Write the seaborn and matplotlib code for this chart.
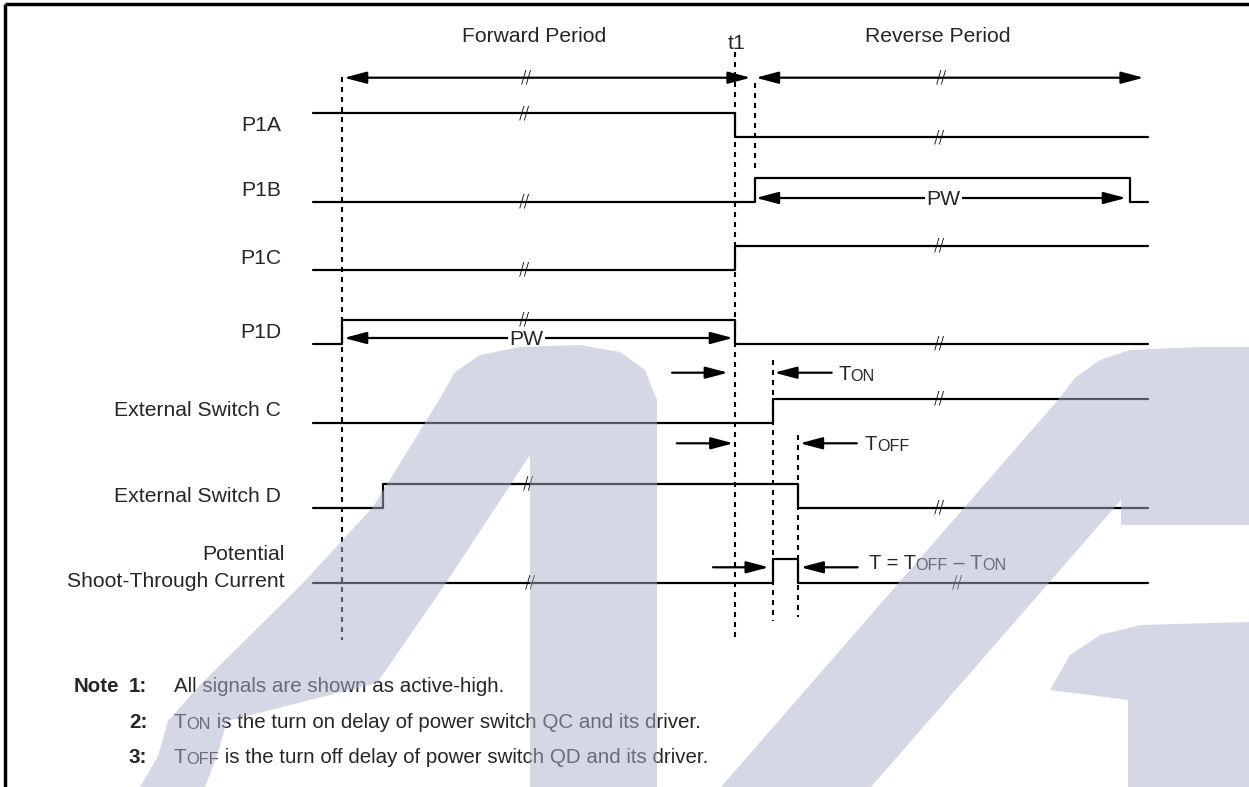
import matplotlib.pyplot as plt
import pandas as pd
import seaborn as sns
from matplotlib.patches import Polygon

# ---- timing data (time units, t1 = 100) ----
T_START, T_END = -7.4, 205.2
T1 = 100.0
P1B_RISE, P1B_FALL = 105.1, 200.6
T_ON, T_OFF = 109.6, 116.0
EXTD_RISE = 10.35

signal_names = ["P1A", "P1B", "P1C", "P1D", "External Switch C", "External Switch D", "Shoot"]
p1a_t, p1a_v = [T_START, T1, T_END], [1, 0, 0]
p1b_t, p1b_v = [T_START, P1B_RISE, P1B_FALL, T_END], [0, 1, 0, 0]
p1c_t, p1c_v = [T_START, T1, T_END], [0, 1, 1]
p1d_t, p1d_v = [T_START, 0.0, T1, T_END], [0, 1, 0, 0]
extc_t, extc_v = [T_START, T_ON, T_END], [0, 1, 1]
extd_t, extd_v = [T_START, EXTD_RISE, T_OFF, T_END], [0, 1, 0, 0]
shoot_t, shoot_v = [T_START, T_ON, T_OFF, T_END], [0, 1, 0, 0]

# period spans and pulse widths
forward_span = (0.5, 104.0)
reverse_span = (105.3, 204.0)
p1d_pw = (0.5, 99.5)
p1b_pw = (105.3, 199.5)
# delay arrows: (tail, tip)
ton_arrows = [(84.0, 98.2), (124.6, 110.0)]
toff_arrows = [(85.2, 99.6), (131.0, 116.5)]
shoot_arrows = [(94.4, 108.6), (131.2, 116.7)]

# dashed markers: time, top, bottom (px)
marker_t = [0.0, T1, P1B_RISE, T_ON, T_OFF]
marker_top = [77, 52, 83, 360, 435]
marker_bot = [640, 640, 173, 621, 617]

# ---- layout ----
W, H = 1249, 787
PX0, PX_PER_T = 342, 3.93
row_low_y = [137.3, 201.5, 269.5, 344.0, 422.5, 507.5, 582.7]
STEP_H = 24
LBL = 15.2

sns.set_theme(style="white")
plt.rcParams['font.family'] = ['Liberation Sans', 'DejaVu Sans']

fig = plt.figure(figsize=(W / 100, H / 100), dpi=100)
ax = fig.add_axes([0, 0, 1, 1])

sig_t = [p1a_t, p1b_t, p1c_t, p1d_t, extc_t, extd_t, shoot_t]
sig_v = [p1a_v, p1b_v, p1c_v, p1d_v, extc_v, extd_v, shoot_v]
rows = []
for name, ts, vs, base in zip(signal_names, sig_t, sig_v, row_low_y):
    for t, v in zip(ts, vs):
        rows.append({"signal": name, "t": t, "y": base - v * STEP_H})
df = pd.DataFrame(rows)
sns.lineplot(data=df, x="t", y="y", units="signal", estimator=None, sort=False,
             drawstyle="steps-post", color="black", lw=1.6, ax=ax)

ax.vlines(marker_t, marker_top, marker_bot, colors="black", lw=1.5,
          linestyles=(0, (2.4, 2.4)))


def harrow(tail, tip, y, both=False):
    style = '<|-|>' if both else '-|>'
    ax.annotate('', xy=(tip, y), xytext=(tail, y),
                arrowprops=dict(arrowstyle=f'{style},head_length=0.68,head_width=0.18',
                                mutation_scale=20, lw=1.6, color='black',
                                shrinkA=0, shrinkB=0))


harrow(*forward_span, 77.7, both=True)
harrow(*reverse_span, 77.7, both=True)
harrow(*p1d_pw, 338, both=True)
harrow(*p1b_pw, 198, both=True)
for tail, tip in ton_arrows:
    harrow(tail, tip, 372.7)
for tail, tip in toff_arrows:
    harrow(tail, tip, 443.3)
for tail, tip in shoot_arrows:
    harrow(tail, tip, 567.3)

# break marks
breaks = [(46.8, 77.7), (152.4, 77.7)]
for i, (ts, vs) in enumerate(zip(sig_t, sig_v)):
    fwd = {0: 46.5, 1: 46.5, 2: 46.5, 3: 46.5, 5: 47.5, 6: 48.0}.get(i)
    rev = {0: 152.0, 2: 152.0, 3: 152.0, 4: 152.0, 5: 152.0, 6: 156.5}.get(i)
    for bt in (fwd, rev):
        if bt is None:
            continue
        lvl = [v for t, v in zip(ts, vs) if t <= bt][-1]
        breaks.append((bt, row_low_y[i] - lvl * STEP_H))
for bt, by in breaks:
    ax.text(bt, by, "//", fontsize=12, ha="center", va="center", color="black",
            family="DejaVu Sans", fontweight="light")

# pulse width labels
for t, y in [(47.0, 338), (153.0, 198)]:
    ax.text(t, y + 7, "PW", fontsize=LBL, ha="center", va="baseline",
            bbox=dict(fc="white", ec="none", pad=1.0))

# signal labels
lbl_t = (281 - PX0) / PX_PER_T
for name, base in zip(signal_names[:6], row_low_y[:6]):
    ax.text(lbl_t, base - 6, name, fontsize=LBL, ha="right", va="baseline")
ax.text(lbl_t + 0.8, 560, "Potential", fontsize=LBL, ha="right", va="baseline")
ax.text(lbl_t + 0.8, 587, "Shoot-Through Current", fontsize=LBL, ha="right", va="baseline")

ax.text(48.9, 42, "Forward Period", fontsize=LBL, ha="center", va="baseline")
ax.text(151.5, 42, "Reverse Period", fontsize=LBL, ha="center", va="baseline")
ax.text(100.5, 49, "t1", fontsize=LBL, ha="center", va="baseline")


def sc_text(axis, x, y, parts, size, **kw):
    prev = None
    for s, small in parts:
        fs = size * 0.8 if small else size
        if prev is None:
            prev = axis.text(x, y, s, fontsize=fs, ha="left", va="baseline", **kw)
        else:
            prev = axis.annotate(s, xy=(1, 0), xycoords=prev, fontsize=fs,
                                 ha="left", va="bottom", **kw)
    return prev


sc_text(ax, 126.3, 379.7, [("T", False), ("ON", True)], LBL - 0.7)
sc_text(ax, 133.0, 450.3, [("T", False), ("OFF", True)], LBL - 0.7)
sc_text(ax, 134.0, 569.0, [("T = T", False), ("OFF", True), (" \u2013 T", False), ("ON", True)], LBL - 0.7)

ax.set_xlim(-PX0 / PX_PER_T, (W - PX0) / PX_PER_T)
ax.set_ylim(H, 0)
ax.set_axis_off()

# ---- overlay in pixel coords: notes, frame, watermark ----
ov = fig.add_axes([0, 0, 1, 1])
ov.set_xlim(0, W)
ov.set_ylim(H, 0)
ov.set_axis_off()
ov.patch.set_visible(False)

NOTE = 14.8
ov.text(74, 692, "Note", fontsize=NOTE, fontweight="bold", va="baseline")
for num, yb in zip(["1:", "2:", "3:"], [692, 728, 763]):
    ov.text(129, yb, num, fontsize=NOTE, fontweight="bold", va="baseline")
ov.text(174, 692, "All signals are shown as active-high.", fontsize=NOTE, va="baseline")
sc_text(ov, 174, 728, [("T", False), ("ON", True),
                       (" is the turn on delay of power switch QC and its driver.", False)], NOTE)
sc_text(ov, 174, 763, [("T", False), ("OFF", True),
                       (" is the turn off delay of power switch QD and its driver.", False)], NOTE)

ov.plot([5, W], [4, 4], color="black", lw=2.5, solid_capstyle="butt", zorder=12)
ov.plot([5, 5], [4, H], color="black", lw=2.5, solid_capstyle="butt", zorder=12)

# faint logo watermark
wm = dict(fc="#aab2cd", ec="none", alpha=0.5, zorder=10)
a1 = [(140, 787), (158, 756), (168, 721), (200, 685), (303, 583), (373, 507),
      (439, 400), (455, 372), (480, 355), (520, 347), (580, 345), (620, 352),
      (645, 370), (657, 400), (657, 787), (530, 787), (530, 455), (446, 583),
      (377, 683), (227, 721), (217, 756), (205, 787)]
a2 = [(721, 787), (1058, 400), (1075, 378), (1100, 360), (1130, 350), (1200, 347),
      (1249, 347), (1249, 525), (1121, 525), (1121, 500), (871, 787)]
a3 = [(1050, 690), (1070, 655), (1100, 635), (1140, 625), (1249, 622), (1249, 787),
      (1128, 787), (1128, 700)]
for pts in (a1, a2, a3):
    ov.add_patch(Polygon(pts, closed=True, **wm))

fig.savefig("out.png", dpi=100)
